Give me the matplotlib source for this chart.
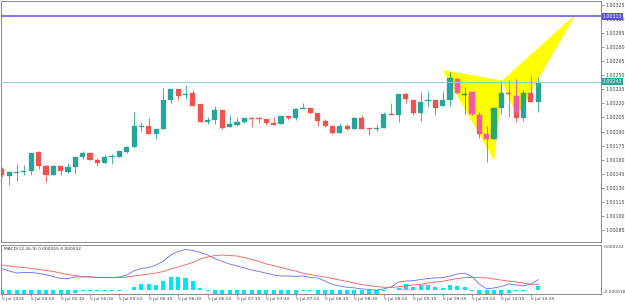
import numpy as np
import matplotlib.pyplot as plt
from matplotlib.patches import Polygon
import matplotlib.transforms as mtransforms

# M5 candles, 5 Jul 2024 04:30 .. 10:35
opens = [1.00150, 1.00143, 1.00146, 1.00147, 1.00148, 1.00168, 1.00153, 1.00144, 1.00153, 1.00147,
         1.00152, 1.00163, 1.00167, 1.00160, 1.00156, 1.00163, 1.00163, 1.00168, 1.00174, 1.00195,
         1.00196, 1.00187, 1.00193, 1.00224, 1.00235, 1.00229, 1.00231, 1.00219, 1.00200, 1.00202,
         1.00213, 1.00195, 1.00197, 1.00200, 1.00204, 1.00204, 1.00203, 1.00199, 1.00198, 1.00207,
         1.00204, 1.00214, 1.00215, 1.00210, 1.00201, 1.00196, 1.00188, 1.00196, 1.00193, 1.00204,
         1.00194, 1.00193, 1.00194, 1.00209, 1.00208, 1.00230, 1.00224, 1.00210, 1.00223, 1.00224,
         1.00217, 1.00224, 1.00246, 1.00229, 1.00232, 1.00208, 1.00187, 1.00182, 1.00215, 1.00231,
         1.00228, 1.00204, 1.00231, 1.00222]
highs = [1.00152, 1.00147, 1.00155, 1.00154, 1.00167, 1.00169, 1.00154, 1.00154, 1.00153, 1.00156,
         1.00163, 1.00169, 1.00167, 1.00162, 1.00165, 1.00166, 1.00169, 1.00175, 1.00211, 1.00200,
         1.00204, 1.00193, 1.00236, 1.00235, 1.00235, 1.00240, 1.00234, 1.00219, 1.00206, 1.00217,
         1.00213, 1.00208, 1.00204, 1.00204, 1.00206, 1.00205, 1.00203, 1.00206, 1.00207, 1.00207,
         1.00215, 1.00220, 1.00215, 1.00210, 1.00203, 1.00196, 1.00199, 1.00198, 1.00206, 1.00208,
         1.00194, 1.00198, 1.00211, 1.00220, 1.00230, 1.00231, 1.00224, 1.00232, 1.00233, 1.00224,
         1.00233, 1.00254, 1.00247, 1.00238, 1.00232, 1.00211, 1.00196, 1.00215, 1.00244, 1.00245,
         1.00246, 1.00234, 1.00249, 1.00248]
lows = [1.00142, 1.00133, 1.00137, 1.00144, 1.00144, 1.00150, 1.00136, 1.00144, 1.00144, 1.00146,
        1.00145, 1.00161, 1.00160, 1.00153, 1.00156, 1.00155, 1.00163, 1.00167, 1.00174, 1.00191,
        1.00187, 1.00182, 1.00193, 1.00220, 1.00224, 1.00225, 1.00217, 1.00200, 1.00198, 1.00198,
        1.00193, 1.00195, 1.00196, 1.00199, 1.00195, 1.00199, 1.00197, 1.00197, 1.00198, 1.00202,
        1.00202, 1.00214, 1.00209, 1.00196, 1.00195, 1.00187, 1.00188, 1.00192, 1.00193, 1.00193,
        1.00186, 1.00191, 1.00194, 1.00208, 1.00200, 1.00220, 1.00208, 1.00201, 1.00216, 1.00208,
        1.00217, 1.00217, 1.00231, 1.00209, 1.00208, 1.00183, 1.00158, 1.00182, 1.00209, 1.00206,
        1.00200, 1.00201, 1.00222, 1.00211]
closes = [1.00144, 1.00147, 1.00147, 1.00148, 1.00167, 1.00153, 1.00144, 1.00153, 1.00148, 1.00152,
          1.00163, 1.00167, 1.00160, 1.00156, 1.00163, 1.00164, 1.00169, 1.00174, 1.00196, 1.00196,
          1.00187, 1.00193, 1.00224, 1.00235, 1.00228, 1.00230, 1.00217, 1.00200, 1.00202, 1.00213,
          1.00194, 1.00198, 1.00200, 1.00204, 1.00203, 1.00203, 1.00199, 1.00197, 1.00207, 1.00204,
          1.00214, 1.00215, 1.00210, 1.00201, 1.00196, 1.00188, 1.00196, 1.00193, 1.00204, 1.00193,
          1.00193, 1.00194, 1.00209, 1.00208, 1.00230, 1.00225, 1.00210, 1.00222, 1.00224, 1.00215,
          1.00224, 1.00247, 1.00231, 1.00230, 1.00209, 1.00187, 1.00182, 1.00215, 1.00231, 1.00230,
          1.00204, 1.00231, 1.00222, 1.00243]

# MACD(12,26,9): main line, signal line, histogram
macd_main = [112, 99, 89, 92, 92, 87, 81, 71, 61, 61, 69, 70, 69, 66, 66, 66, 69, 79, 101, 112,
             117, 130, 150, 181, 199, 209, 204, 194, 181, 163, 148, 135, 125, 115, 104, 97, 88, 79, 74, 74,
             72, 74, 66, 64, 48, 30, 23, 16, 13, 8, 5, 2, 8, 18, 43, 48, 50, 56, 61, 64,
             65, 74, 84, 88, 71, 33, 8, 13, 20, 33, 28, 23, 33, 55]
macd_signal = [130, 125, 120, 117, 113, 107, 102, 97, 89, 81, 76, 70, 69, 67, 66, 65, 66, 69, 74, 79,
               84, 89, 97, 110, 120, 131, 143, 161, 171, 178, 181, 178, 176, 168, 158, 148, 135, 127, 117, 107,
               99, 88, 81, 74, 69, 61, 53, 46, 38, 30, 25, 20, 16, 16, 19, 23, 28, 31, 38, 43,
               47, 54, 61, 65, 67, 66, 64, 58, 53, 48, 43, 38, 31, 32]
macd_hist = [-18, -26, -31, -25, -21, -20, -21, -26, -28, -20, -15, -3, -2, -3, -2, -2, -1, 2, 19, 33,
             31, 28, 48, 67, 67, 65, 47, 14, -2, -20, -30, -43, -51, -53, -54, -51, -47, -48, -43, -33,
             -27, -3, -2, -20, -25, -31, -30, -30, -25, -22, -20, -18, -4, 3, 14, 31, 19, 28, 28, 16,
             14, 28, 24, 16, -2, -30, -56, -45, -33, -15, -3, -2, 2, 23]

tick_idx = list(range(0, 73, 4))
tick_labels = ['5 Jul 2024', '5 Jul 04:50', '5 Jul 05:10', '5 Jul 05:30', '5 Jul 05:50',
               '5 Jul 06:10', '5 Jul 06:30', '5 Jul 06:50', '5 Jul 07:10', '5 Jul 07:30',
               '5 Jul 07:50', '5 Jul 08:10', '5 Jul 08:30', '5 Jul 08:50', '5 Jul 09:10',
               '5 Jul 09:30', '5 Jul 09:50', '5 Jul 10:10', '5 Jul 10:30']

# harmonic pattern points (bar index, price)
pat_x = [60.1, 67.0, 68.1, 70.1, 77.9]
pat_y = [1.00255, 1.00160, 1.00244, 1.00207, 1.00313]

level_d = 1.00313
level_bid = 1.00243

UP, DN = '#26a69a', '#ef5350'
UP_IN, DN_IN = '#2aa865', '#f25aa8'

o = np.array(opens); h = np.array(highs); l = np.array(lows); c = np.array(closes)
x = np.arange(len(o))
scale = 1e-6
mm = np.array(macd_main) * scale
ms = np.array(macd_signal) * scale
mh = np.array(macd_hist) * scale

fig = plt.figure(figsize=(6.25, 3.05), dpi=100)
W, H = 625, 305
ax = fig.add_axes([1.5 / W, (H - 242) / H, 599.5 / W, 241 / H])
axm = fig.add_axes([1.5 / W, (H - 294) / H, 599.5 / W, 49 / H])

tri1 = Polygon([(pat_x[0], pat_y[0]), (pat_x[1], pat_y[1]), (pat_x[2], pat_y[2])],
               closed=True, fc='#ffff00', ec='#ffff00', lw=0.5, zorder=1)
tri2 = Polygon([(pat_x[2], pat_y[2]), (pat_x[3], pat_y[3]), (pat_x[4], pat_y[4])],
               closed=True, fc='#ffff00', ec='#ffff00', lw=0.5, zorder=1)
ax.add_patch(tri1)
ax.add_patch(tri2)


def draw_candles(up_col, dn_col, clip=None, z=3):
    cols = np.where(c >= o, up_col, dn_col)
    body_lo = np.minimum(o, c)
    body_h = np.maximum(np.abs(c - o), 0.000009)
    wk = ax.vlines(x, l, h, colors=cols, lw=0.6, zorder=z)
    bars = ax.bar(x, body_h, bottom=body_lo, width=0.7, color=cols, edgecolor=cols,
                  lw=0.2, zorder=z + 0.1)
    if clip is not None:
        wk.set_clip_path(clip)
        for b in bars:
            b.set_clip_path(clip)


draw_candles(UP, DN)
draw_candles(UP_IN, DN_IN, clip=tri1, z=4)
draw_candles(UP_IN, DN_IN, clip=tri2, z=4)

ax.axhline(level_d, color='#5b50d6', lw=1.1, zorder=5)
ax.axhline(level_bid, color='#8fd3cb', lw=0.8, zorder=5)

ax.set_xlim(-0.05, 81.56)
ax.set_ylim(1.000722, 1.003292)
ax.set_xticks([])
yt = np.arange(1.00085, 1.003251, 0.00015)
ax.set_yticks(yt)
ax.set_yticklabels([f'{v:.5f}' for v in yt])
ax.yaxis.tick_right()
ax.tick_params(axis='y', labelsize=3.4, length=2, width=0.4, pad=1, colors='#444444')

tr = mtransforms.blended_transform_factory(ax.transAxes, ax.transData)
ax.text(1.003, level_d, f'{level_d:.5f}', transform=tr, fontsize=3.4, color='white',
        va='center', ha='left', zorder=6,
        bbox=dict(fc='#5b50d6', ec='none', pad=0.8))
ax.text(1.003, level_bid, f'{level_bid:.5f}', transform=tr, fontsize=3.4, color='white',
        va='center', ha='left', zorder=6,
        bbox=dict(fc='#26a69a', ec='none', pad=0.8))

# MACD panel
axm.bar(x, mh, width=0.55, color='#00e6f2', zorder=2)
axm.plot(x, mm, color='#6b6cf2', lw=0.6, zorder=3)
axm.plot(x, ms, color='#f05a5a', lw=0.6, zorder=3)
axm.set_xlim(-0.05, 81.56)
axm.set_ylim(-0.000018, 0.000232)
axm.set_yticks([])
axm.set_xticks(tick_idx)
axm.set_xticklabels(tick_labels, ha='left')
axm.tick_params(axis='x', labelsize=3.2, length=1.5, width=0.4, pad=1, colors='#444444')
axm.text(0.004, 0.96, 'MACD(12,26,9) 0.000055 0.000032', transform=axm.transAxes,
         fontsize=3.2, color='#333333', va='top', ha='left')
axm.text(1.005, 1.0, '0.000232', transform=axm.transAxes, fontsize=3.2,
         color='#444444', va='top', ha='left')
axm.text(1.005, 0.0, '-0.000018', transform=axm.transAxes, fontsize=3.2,
         color='#444444', va='bottom', ha='left')

for a in (ax, axm):
    for s in a.spines.values():
        s.set_color('#8a8a8a')
        s.set_linewidth(0.7)

fig.savefig('out.png', dpi=100)
